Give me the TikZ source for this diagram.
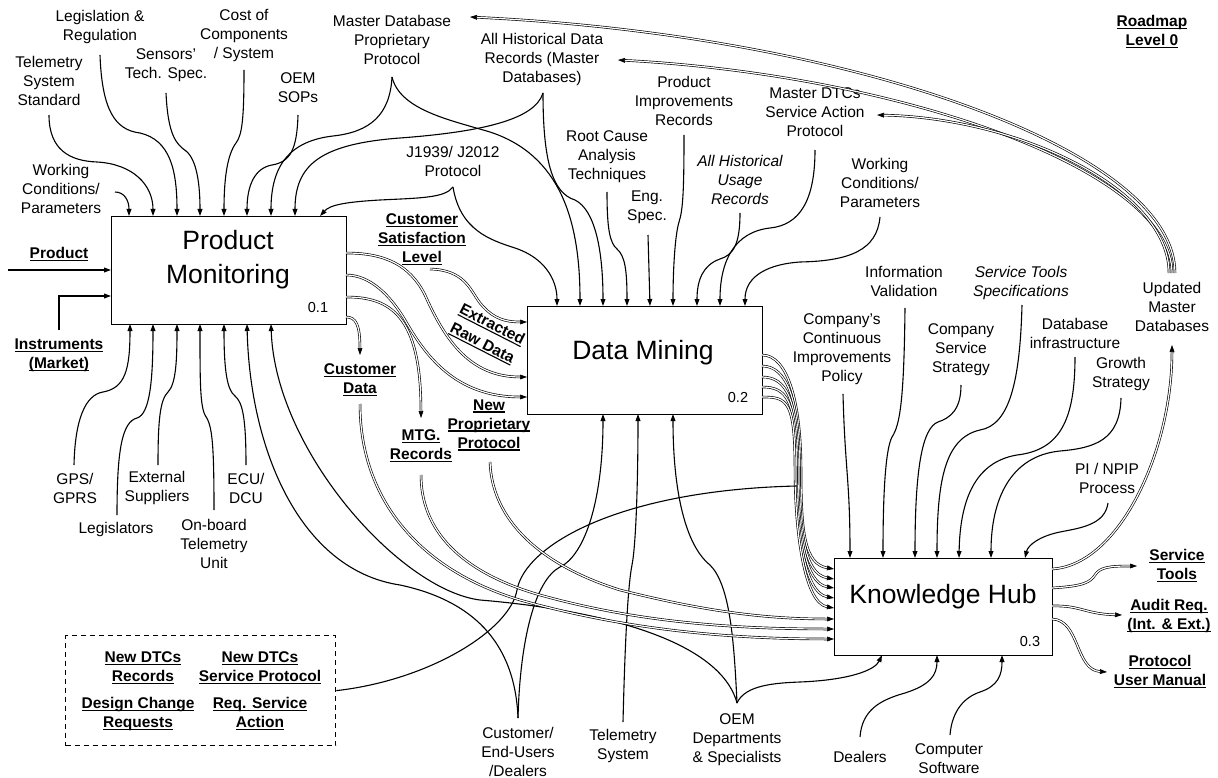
\documentclass[tikz,border=0pt]{standalone}
\usepackage{fontspec}
\setmainfont{Liberation Sans}
\usetikzlibrary{arrows.meta,calc}
\newcommand\lf{\fontsize{15.5}{19}\selectfont}
% underlined text with a firm rule
\newcommand\ulx[1]{\setbox0\hbox{#1}\leavevmode\rlap{\rule[-2.4pt]{\wd0}{1.1pt}}\box0}
\begin{document}
\begin{tikzpicture}[x=1pt,y=-1pt,
  lbl/.style={align=center,font=\lf,inner sep=0pt},
  blbl/.style={align=center,font=\lf\bfseries,inner sep=0pt},
  ilbl/.style={align=center,font=\lf\itshape,inner sep=0pt},
  conn/.style={line width=1.1pt},
  arr/.style={conn,-{Triangle[length=7pt,width=4.8pt]}},
  dbl/.style={line width=0.65pt,double,double distance=1.2pt},
  darr/.style={dbl,-{Triangle[length=7pt,width=4.8pt]}},
  procbox/.style={draw,line width=1.2pt,anchor=north west,inner sep=0pt},
  title/.style={font=\fontsize{26.5}{34}\selectfont,align=center},
  num/.style={font=\fontsize{14.5}{17}\selectfont}
]
\useasboundingbox (0,0) rectangle (1218,778);
\fill[white] (0,0) rectangle (1218,778);

% ---------- process boxes ----------
\node[procbox,minimum width=235pt,minimum height=108pt] (pm) at (111,216) {};
\node[procbox,minimum width=235pt,minimum height=108pt] (dm) at (527,306) {};
\node[procbox,minimum width=218pt,minimum height=97pt] (kh) at (834,558) {};
\node[title] (pmt) at (228,260) {Product\\Monitoring};
\node[title] (dmt) at (643,353) {Data Mining};
\node[title] (kht) at (943,597) {Knowledge Hub};
\node[num] (pmn) at (318,308) {0.1};
\node[num] (dmn) at (738,398) {0.2};
\node[num] (khn) at (1030,642) {0.3};

% ---------- ports on the boxes ----------
\foreach \i/\x in {1/129,2/153,3/177,4/200,5/224,6/247,7/271,8/295,9/320} \coordinate (pmN\i) at (\x,216);
\foreach \i/\x in {1/130,2/153,3/177,4/200,5/224,6/247,7/271} \coordinate (pmS\i) at (\x,324);
\foreach \i/\y in {1/253,2/275,3/297,4/317} \coordinate (pmE\i) at (346,\y);
\coordinate (pmW1) at (111,270);
\coordinate (pmW2) at (111,296);
\foreach \i/\x in {1/557,2/580,3/603,4/627,5/650,6/673,7/697,8/720,9/745} \coordinate (dmN\i) at (\x,306);
\foreach \i/\x in {1/603,2/638,3/673} \coordinate (dmS\i) at (\x,414);
\foreach \i/\y in {1/322,2/377,3/397} \coordinate (dmW\i) at (527,\y);
\foreach \i/\y in {1/355,2/366,3/377,4/387,5/397} \coordinate (dmE\i) at (762,\y);
\foreach \i/\x in {1/850,2/883,3/915,4/937,5/959,6/991,7/1025} \coordinate (khN\i) at (\x,558);
\foreach \i/\x in {1/882,2/937,3/1002} \coordinate (khS\i) at (\x,655);
\foreach \i/\y in {1/569,2/579,3/588,4/598,5/608,6/619,7/629,8/639} \coordinate (khW\i) at (834,\y);
\foreach \i/\y in {1/569,2/588,3/606,4/619} \coordinate (khE\i) at (1052,\y);

% ---------- labels ----------
\node[lbl] (tss) at (49,81) {Telemetry\\System\\Standard};
\node[lbl] (leg) at (100,27) {Legislation \&\\Regulation};
\node[lbl] (sens) at (166,65) {Sensors’\\Tech. Spec.};
\node[lbl] (cost) at (244,36) {Cost of\\Components\\/ System};
\node[lbl] (sops) at (298,88) {OEM\\SOPs};
\node[lbl] (wc1) at (61,189) {Working\\Conditions/\\Parameters};
\node[lbl] (mdb) at (392,40) {Master Database\\Proprietary\\Protocol};
\node[lbl] (ahd) at (542,59) {All Historical Data\\Records (Master\\Databases)};
\node[lbl] (j19) at (453,161) {J1939/ J2012\\Protocol};
\node[lbl] (pir) at (684,101) {Product\\Improvements\\Records};
\node[lbl] (rca) at (607,157) {Root Cause\\Analysis\\Techniques};
\node[lbl] (eng) at (647,207) {Eng.\\Spec.};
\node[ilbl] (ahu) at (740,180) {All Historical\\Usage\\Records};
\node[lbl] (mdtc) at (815,112) {Master DTCs\\Service Action\\Protocol};
\node[lbl] (wc2) at (880,183) {Working\\Conditions/\\Parameters};
\node[blbl] (rm) at (1152,32) {\ulx{Roadmap}\\\ulx{Level 0}};
\node[lbl] (umd) at (1172,307) {Updated\\Master\\Databases};
\node[lbl] (iv) at (904,281) {Information\\Validation};
\node[ilbl] (sts) at (1021,283) {Service Tools\\Specifications};
\node[lbl] (ccip) at (842,349) {Company’s\\Continuous\\Improvements\\Policy};
\node[lbl] (css) at (961,350) {Company\\Service\\Strategy};
\node[lbl] (dbi) at (1075,333) {Database\\infrastructure};
\node[lbl] (gs) at (1121,374) {Growth\\Strategy};
\node[lbl] (pin) at (1107,478) {PI / NPIP\\Process};
\node[blbl] (st) at (1177,566) {\ulx{Service}\\\ulx{Tools}};
\node[blbl] (aud) at (1169,616) {\ulx{Audit Req.}\\\ulx{(Int. \& Ext.)}};
\node[blbl] (pum) at (1160,672) {\ulx{Protocol}\\\ulx{User Manual}};
\node[lbl] (deal) at (860,757) {Dealers};
\node[lbl] (cs) at (949,759) {Computer\\Software};
\node[lbl] (ceu) at (518,752) {Customer/\\End-Users\\/Dealers};
\node[lbl] (ts) at (623,746) {Telemetry\\System};
\node[lbl] (oem) at (737,740) {OEM\\Departments\\\& Specialists};
\node[blbl] (prod) at (59,254) {\ulx{Product}};
\node[blbl] (inst) at (59,355) {\ulx{Instruments}\\\ulx{(Market)}};
\node[lbl] (gps) at (75,488) {GPS/\\GPRS};
\node[lbl] (ext) at (157,488) {External\\Suppliers};
\node[lbl] (ecu) at (246,488) {ECU/\\DCU};
\node[lbl] (legs) at (116,529) {Legislators};
\node[lbl] (obt) at (214,544) {On-board\\Telemetry\\Unit};
\node[blbl] (csl) at (422,239) {\ulx{Customer}\\\ulx{Satisfaction}\\\ulx{Level}};
\node[blbl,rotate=-27] (erd1) at (492,325) {\ulx{Extracted}};
\node[blbl,rotate=-27] (erd2) at (482,344) {\ulx{Raw Data}};
\node[blbl] (cd) at (360,380) {\ulx{Customer}\\\ulx{Data}};
\node[blbl] (mtg) at (421,446) {\ulx{MTG.}\\\ulx{Records}};
\node[blbl] (npp) at (489,425) {\ulx{New}\\\ulx{Proprietary}\\\ulx{Protocol}};

% dashed group of outputs
\node[draw,line width=1.3pt,dash pattern=on 5pt off 4pt,minimum width=270pt,minimum height=110pt,
      anchor=north west,inner sep=0pt] (dbox) at (65,635) {};
\node[blbl] (nd1) at (143,668) {\ulx{New DTCs}\\\ulx{Records}};
\node[blbl] (nd2) at (260,668) {\ulx{New DTCs}\\\ulx{Service Protocol}};
\node[blbl] (nd3) at (138,714) {\ulx{Design Change}\\\ulx{Requests}};
\node[blbl] (nd4) at (260,714) {\ulx{Req. Service}\\\ulx{Action}};

% ---------- free ends of the connectors ----------
\coordinate (wc1s) at (115,192);
\coordinate (tsss) at (49,115);
\coordinate (legS) at (100,55);
\coordinate (senss) at (166,93);
\coordinate (costs) at (244,70);
\coordinate (sopss) at (298,115);
\coordinate (mdbs) at (392,77);
\coordinate (ahds) at (543,93);
\coordinate (j19s) at (453,187);
\coordinate (rcas) at (607,192);
\coordinate (engs) at (648,235);
\coordinate (pirs) at (684,135);
\coordinate (ahus) at (740,213);
\coordinate (mdtcs) at (815,150);
\coordinate (wc2s) at (880,217);
\coordinate (prodW) at (8,270);
\coordinate (instN) at (59,330);
\coordinate (gpsN) at (74,465);
\coordinate (legsN) at (117,515);
\coordinate (extN) at (158,465);
\coordinate (obtN) at (214,510);
\coordinate (ecuN) at (246,465);
\coordinate (ceuN) at (518,718);
\coordinate (tsN) at (623,722);
\coordinate (oemN) at (737,703);
\coordinate (dealN) at (860,737);
\coordinate (csN) at (950,735);
\coordinate (ccipS) at (843,394);
\coordinate (ivS) at (905,308);
\coordinate (cssS) at (961,385);
\coordinate (stsS) at (1022,305);
\coordinate (dbiS) at (1075,357);
\coordinate (gsS) at (1121,398);
\coordinate (pinS) at (1108,503);
\coordinate (umdS) at (1172,345);
\coordinate (umdN1) at (1175,273);
\coordinate (umdN2) at (1172,273);
\coordinate (umdN3) at (1169,273);
\coordinate (mdbE) at (470,17);
\coordinate (ahdE) at (618,60);
\coordinate (mdtcE) at (877,115);
\coordinate (stW) at (1137,566);
\coordinate (audW) at (1122,615);
\coordinate (pumW) at (1107,672);
\coordinate (cslE) at (430,269);
\coordinate (cdN) at (360,355);
\coordinate (cdS) at (360,404);
\coordinate (mtgN) at (421,418);
\coordinate (mtgS) at (421,475);
\coordinate (nppS) at (490,462);
\coordinate (bund) at (797,486);

% ---------- controls into Product Monitoring (top) ----------
\draw[arr] (wc1s) .. controls (124,192) and (129,200) .. (pmN1);
\draw[arr] (tsss) .. controls (49,150) and (70,161) .. (97,162) .. controls (133,164) and (153,185) .. (pmN2);
\draw[arr] (legS) .. controls (102,110) and (115,130) .. (140,133) .. controls (170,140) and (177,170) .. (pmN3);
\draw[arr] (senss) .. controls (168,135) and (176,144) .. (186,151) .. controls (197,160) and (200,185) .. (pmN4);
\draw[arr] (costs) .. controls (244,120) and (242,135) .. (236,143) .. controls (227,155) and (224,180) .. (pmN5);
\draw[arr] (sopss) .. controls (297,150) and (290,162) .. (272,165) .. controls (255,168) and (247,185) .. (pmN6);
\draw[arr] (mdbs) .. controls (390,115) and (370,132) .. (333,136) .. controls (290,141) and (271,165) .. (pmN7);
\draw[arr] (ahds) .. controls (535,120) and (480,132) .. (400,138) .. controls (320,144) and (295,165) .. (pmN8);
\draw[arr] (j19s) .. controls (445,198) and (420,198) .. (380,200) .. controls (345,202) and (330,205) .. (pmN9);

% ---------- controls into Data Mining (top) ----------
\draw[arr] (j19s) .. controls (460,230) and (490,240) .. (515,248) .. controls (545,258) and (557,280) .. (dmN1);
\draw[arr] (mdbs) .. controls (400,110) and (450,120) .. (490,132) .. controls (560,155) and (580,220) .. (dmN2);
\draw[arr] (ahds) .. controls (543,160) and (552,193) .. (575,200) .. controls (595,210) and (603,250) .. (dmN3);
\draw[arr] (rcas) .. controls (607,230) and (610,243) .. (617,249) .. controls (625,256) and (627,270) .. (dmN4);
\draw[arr] (engs) -- (dmN5);
\draw[arr] (pirs) .. controls (684,190) and (683,210) .. (679,222) .. controls (675,235) and (673,270) .. (dmN6);
\draw[arr] (ahus) .. controls (740,245) and (733,255) .. (720,259) .. controls (703,265) and (697,280) .. (dmN7);
\draw[arr] (mdtcs) .. controls (815,200) and (800,225) .. (770,228) .. controls (735,232) and (720,260) .. (dmN8);
\draw[arr] (wc2s) .. controls (877,250) and (850,261) .. (800,262) .. controls (770,264) and (745,275) .. (dmN9);

% ---------- inputs from the left ----------
\draw[arr] (prodW) -- (pmW1);
\draw[arr] (instN) |- (pmW2);

% ---------- mechanisms under Product Monitoring ----------
\draw[arr] (gpsN) .. controls (75,420) and (85,395) .. (103,392) .. controls (125,388) and (130,370) .. (pmS1);
\draw[arr] (legsN) .. controls (117,450) and (122,422) .. (137,418) .. controls (150,414) and (153,380) .. (pmS2);
\draw[arr] (extN) .. controls (158,420) and (160,400) .. (168,392) .. controls (176,384) and (177,360) .. (pmS3);
\draw[arr] (obtN) .. controls (214,440) and (212,425) .. (205,415) .. controls (200,405) and (200,380) .. (pmS4);
\draw[arr] (ecuN) .. controls (246,415) and (242,402) .. (235,396) .. controls (227,390) and (224,370) .. (pmS5);
\draw[arr] (ceuN) .. controls (515,640) and (470,600) .. (400,585) .. controls (300,570) and (250,450) .. (pmS6);
\draw[arr] (oemN) .. controls (720,640) and (600,610) .. (480,600) .. controls (400,590) and (275,450) .. (pmS7);

% ---------- mechanisms under Data Mining ----------
\draw[arr] (ceuN) .. controls (520,640) and (535,580) .. (560,567) .. controls (585,555) and (603,500) .. (dmS1);
\draw[arr] (tsN) .. controls (625,640) and (628,585) .. (632,565) .. controls (636,545) and (638,480) .. (dmS2);
\draw[arr] (oemN) .. controls (734,640) and (730,585) .. (710,565) .. controls (685,545) and (673,490) .. (dmS3);

% ---------- outputs of Product Monitoring ----------
\draw[darr] (pmE1) .. controls (385,253) and (410,265) .. (425,295) .. controls (445,340) and (470,377) .. (dmW2);
\draw[darr] (pmE2) .. controls (370,275) and (390,295) .. (405,320) .. controls (425,355) and (455,397) .. (dmW3);
\draw[darr] (pmE3) .. controls (390,297) and (421,315) .. (mtgN);
\draw[darr] (pmE4) .. controls (356,317) and (360,325) .. (cdN);
\draw[darr] (cslE) .. controls (465,270) and (470,290) .. (480,303) .. controls (490,315) and (500,322) .. (dmW1);

% ---------- outputs of Data Mining, bundled into Knowledge Hub ----------
\foreach \i/\bx in {1/801,2/799.5,3/798,4/796.5,5/795}
  \draw[darr] (dmE\i) .. controls ($(dmE\i)+(25,0)$) and (\bx,400) .. (\bx,470)
              .. controls (\bx,530) and ($(khW\i)+(-30,-5)$) .. (khW\i);
\draw[conn] (dbox.east) .. controls (430,680) and (510,630) .. (517,590) .. controls (525,545) and (620,490) .. (bund);
\draw[darr] (nppS) .. controls (492,520) and (540,565) .. (620,590) .. controls (700,610) and (760,619) .. (khW6);
\draw[darr] (mtgS) .. controls (421,530) and (460,572) .. (540,595) .. controls (630,620) and (720,629) .. (khW7);
\draw[darr] (cdS) .. controls (360,500) and (420,570) .. (520,600) .. controls (620,628) and (720,639) .. (khW8);

% ---------- controls into Knowledge Hub ----------
\draw[arr] (ccipS) .. controls (845,470) and (850,480) .. (khN1);
\draw[arr] (ivS) .. controls (904,400) and (900,425) .. (892,437) .. controls (885,450) and (883,500) .. (khN2);
\draw[arr] (cssS) .. controls (961,410) and (950,418) .. (938,422) .. controls (922,428) and (915,470) .. (khN3);
\draw[arr] (stsS) .. controls (1020,380) and (1010,425) .. (980,430) .. controls (945,438) and (937,480) .. (khN4);
\draw[arr] (dbiS) .. controls (1075,420) and (1060,450) .. (1017,455) .. controls (975,462) and (960,500) .. (khN5);
\draw[arr] (gsS) .. controls (1120,440) and (1095,448) .. (1060,451) .. controls (1010,456) and (991,500) .. (khN6);
\draw[arr] (pinS) .. controls (1105,525) and (1080,528) .. (1060,532) .. controls (1040,536) and (1028,545) .. (khN7);

% ---------- mechanisms under Knowledge Hub ----------
\draw[arr] (oemN) .. controls (745,685) and (775,683) .. (800,682) .. controls (850,680) and (875,670) .. (khS1);
\draw[arr] (dealN) .. controls (862,710) and (880,700) .. (905,693) .. controls (930,685) and (937,675) .. (khS2);
\draw[arr] (csN) .. controls (952,710) and (965,697) .. (980,692) .. controls (998,686) and (1002,675) .. (khS3);

% ---------- outputs of Knowledge Hub ----------
\draw[darr] (khE1) .. controls (1120,565) and (1172,450) .. (umdS);
\draw[darr] (khE2) .. controls (1085,586) and (1090,582) .. (1095,575) .. controls (1100,567) and (1110,566) .. (stW);
\draw[darr] (khE3) .. controls (1080,605) and (1085,614) .. (audW);
\draw[darr] (khE4) .. controls (1080,620) and (1075,670) .. (pumW);

% ---------- feedback of the updated master databases ----------
\draw[darr] (umdN1) .. controls (1175,150) and (850,35) .. (mdbE);
\draw[darr] (umdN2) .. controls (1172,170) and (900,75) .. (ahdE);
\draw[darr] (umdN3) .. controls (1169,190) and (1020,118) .. (mdtcE);
\end{tikzpicture}
\end{document}
